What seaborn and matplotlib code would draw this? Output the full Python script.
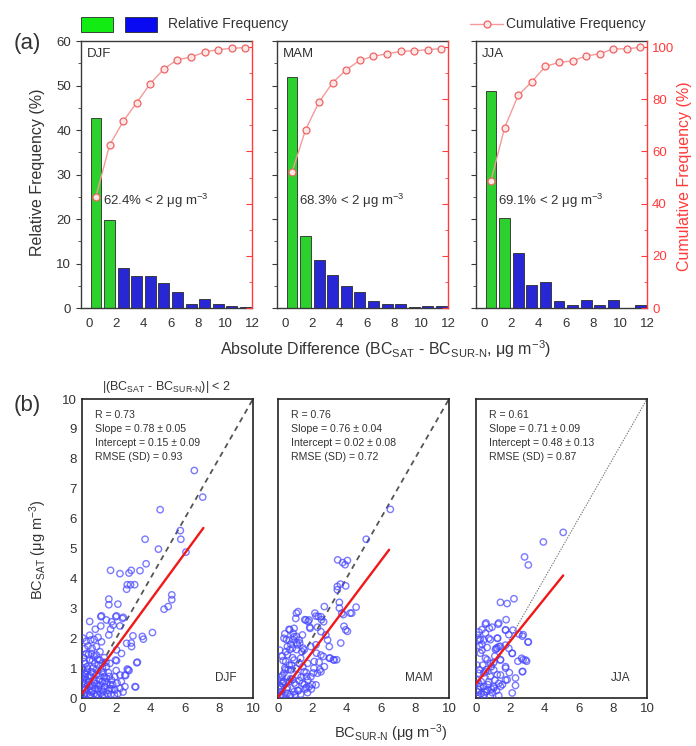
import numpy as np
import pandas as pd
import matplotlib
matplotlib.use("Agg")
import matplotlib.pyplot as plt
import seaborn as sns
from matplotlib.patches import Rectangle
from matplotlib.lines import Line2D
from matplotlib.ticker import MultipleLocator

# ---------------------------------------------------------------- data
seasons = ["DJF", "MAM", "JJA"]
bin_centers = [0.5, 1.5, 2.5, 3.5, 4.5, 5.5, 6.5, 7.5, 8.5, 9.5, 10.5, 11.5]

rel_djf = [42.7, 19.7, 9.1, 7.2, 7.3, 5.6, 3.6, 0.9, 2.0, 0.9, 0.5, 0.3]
rel_mam = [52.0, 16.3, 10.7, 7.4, 4.9, 3.6, 1.6, 0.9, 0.9, 0.3, 0.4, 0.4]
rel_jja = [48.8, 20.3, 12.4, 5.2, 5.9, 1.5, 0.6, 1.9, 0.8, 1.9, 0.0, 0.6]

stat_r = [0.73, 0.76, 0.61]
stat_slope = [0.78, 0.76, 0.71]
stat_slope_err = [0.05, 0.04, 0.09]
stat_intercept = [0.15, 0.02, 0.48]
stat_intercept_err = [0.09, 0.08, 0.13]
stat_rmse = [0.93, 0.72, 0.87]
fit_xmax = [7.1, 6.5, 5.1]

djf_sur = [6.57, 7.06, 4.57, 5.75, 5.78, 6.08, 3.69, 4.47, 3.75, 1.67, 2.22, 2.75, 2.88, 3.39,
           2.65, 2.84, 3.08, 2.61, 1.57, 1.57, 2.10, 5.25, 5.25, 5.04, 4.80, 0.45, 1.14, 2.02,
           2.41, 4.12, 3.53, 3.59, 2.98, 2.88, 2.02, 3.24, 2.65, 2.75, 3.14, 2.55,
           1.10, 0.78, 1.73, 1.82, 1.67, 1.43, 1.98, 2.37, 2.22, 1.10, 1.57, 0.06, 0.51, 0.71,
           0.94, 1.14, 0.35, 0.59, 0.84, 0.25, 0.55, 0.84, 0.12, 0.45, 0.75, 1.04, 1.43, 1.63,
           1.96, 2.61, 2.90, 2.31, 2.02, 3.20, 2.70, 2.51, 2.22, 1.92, 1.73, 0.16, 0.35, 0.55,
           0.84, 1.14, 0.12, 0.45, 0.75, 1.04, 1.33, 1.63, 1.92, 2.22, 2.51, 3.10,
           0.10, 0.30, 0.50, 0.70, 0.90, 1.10, 1.30, 1.50, 1.70, 1.90, 0.20, 0.60, 0.95, 1.25,
           1.80, 2.05, 0.30, 0.65, 0.95, 1.20, 0.40, 0.70, 1.00, 1.30, 1.55, 0.25, 0.45, 0.15,
           0.70, 1.05, 1.30, 0.20, 0.05, 0.08, 0.05, 0.28, 0.22, 0.18, 1.20, 1.45, 1.65, 2.30,
           2.40, 2.10, 0.85, 0.60,
           0.15, 0.35, 0.55, 0.75, 0.95, 1.15, 1.35, 1.55, 1.75, 0.25, 0.45, 0.65, 0.85, 1.05,
           1.25, 1.45, 0.10, 0.38, 0.62, 0.90, 1.18, 1.40, 0.48, 0.82, 1.18, 0.32, 0.05, 0.12,
           1.60, 2.00]
djf_sat = [7.61, 6.72, 6.30, 5.60, 5.31, 4.88, 5.31, 4.98, 4.49, 4.27, 4.16, 4.18, 4.27, 4.26,
           3.79, 3.79, 3.79, 3.64, 3.31, 3.12, 3.14, 3.45, 3.29, 3.06, 2.97, 2.56, 2.75, 2.75,
           2.70, 2.19, 2.06, 1.97, 2.08, 1.84, 1.25, 1.20, 0.97, 0.92, 0.37, 0.75,
           2.72, 2.30, 2.55, 2.44, 2.30, 2.61, 2.72, 2.66, 2.41, 2.41, 2.11, 2.00, 1.94, 1.96,
           2.03, 1.88, 1.74, 1.66, 1.72, 1.49, 1.49, 1.44, 1.22, 1.27, 1.16, 1.27, 1.05, 1.16,
           1.27, 1.83, 1.72, 1.49, 1.61, 1.18, 0.94, 0.77, 0.77, 0.71, 0.60, 0.82, 0.71, 0.88,
           0.77, 0.88, 0.49, 0.38, 0.32, 0.43, 0.38, 0.32, 0.27, 0.32, 0.38, 0.38,
           0.12, 0.15, 0.10, 0.14, 0.12, 0.16, 0.10, 0.14, 0.12, 0.10, 0.30, 0.25, 0.28, 0.22,
           0.45, 0.50, 1.05, 1.00, 1.10, 1.00, 0.55, 0.60, 0.62, 0.70, 0.85, 1.90, 2.10, 1.65,
           1.40, 1.55, 1.35, 1.15, 0.95, 0.65, 0.35, 0.90, 0.80, 0.70, 0.55, 0.50, 0.45, 0.55,
           0.20, 0.15, 0.48, 0.42,
           0.25, 0.45, 0.20, 0.50, 0.40, 0.30, 0.55, 0.25, 0.30, 0.60, 0.75, 0.85, 0.95, 0.75,
           0.85, 0.65, 1.35, 1.45, 1.25, 1.30, 1.15, 1.20, 0.05, 0.05, 0.06, 0.98, 0.55, 0.15,
           0.72, 0.92]

mam_sur = [6.57, 5.16, 3.49, 3.78, 3.92, 4.06, 3.96, 3.47, 3.47, 3.65, 3.59, 3.59, 3.73, 3.82,
           4.22, 4.31, 4.57, 2.71, 3.67, 3.86, 3.96, 4.06, 1.08, 1.57, 1.76, 1.86, 1.88, 2.16,
           2.35, 2.55, 0.69, 0.88, 1.08, 0.49, 0.88, 1.27, 0.69, 1.08, 1.47, 2.25, 2.65, 3.04,
           3.24, 3.43, 2.45, 2.06, 1.67, 1.18, 1.04, 1.63, 1.82, 2.22, 2.51, 2.67, 0.65, 0.94,
           2.31, 2.51, 2.80, 2.90, 0.35, 0.65, 0.94, 1.24, 1.43, 0.55, 0.84, 1.14, 1.53, 1.92,
           2.22, 3.00, 2.51, 3.00, 3.29, 0.45, 0.94, 1.33, 1.73, 2.12, 2.71, 2.51, 0.35, 0.75,
           1.14, 1.53, 1.92, 2.31, 0.25, 0.65, 1.04, 1.43, 1.82, 2.22, 0.16, 0.55, 0.94, 1.33,
           1.73, 0.10, 0.30, 0.50, 0.75, 1.20, 1.60, 0.20, 0.40, 0.05, 0.15, 0.25, 0.60, 0.85,
           1.25, 1.65, 2.00, 0.45, 0.80, 0.20, 0.12, 0.30,
           0.15, 0.35, 0.55, 0.75, 0.95, 1.15, 1.35, 1.55, 1.75, 1.95, 0.25, 0.45, 0.65, 0.85,
           1.05, 1.25, 1.45, 1.65, 0.10, 0.30, 0.55, 0.20, 0.70, 1.00, 2.10, 2.40, 1.10, 1.40,
           0.40, 0.75]
mam_sat = [6.31, 5.31, 4.62, 4.53, 4.46, 4.60, 3.75, 3.73, 3.62, 3.81, 3.20, 3.01, 2.84, 2.79,
           2.84, 2.84, 3.04, 3.06, 1.84, 2.40, 2.28, 2.23, 2.84, 2.62, 2.56, 2.37, 2.33, 2.84,
           2.73, 2.62, 2.28, 2.17, 2.06, 1.95, 1.95, 1.84, 1.62, 1.62, 1.67, 1.50, 1.39, 1.34,
           1.28, 1.28, 0.95, 0.84, 0.72, 2.89, 2.66, 2.61, 2.61, 2.74, 2.72, 2.55, 2.30, 2.33,
           2.37, 2.22, 2.11, 1.94, 2.00, 1.94, 2.05, 1.94, 2.11, 1.72, 1.67, 1.78, 1.61, 1.72,
           1.78, 1.72, 1.44, 1.33, 1.27, 1.22, 1.27, 1.33, 1.16, 1.22, 1.05, 0.88, 0.83, 0.94,
           0.77, 0.88, 0.71, 0.83, 0.49, 0.55, 0.44, 0.49, 0.38, 0.44, 0.21, 0.16, 0.21, 0.13,
           0.18, 0.08, 0.10, 0.30, 0.12, 0.25, 0.30, 0.60, 1.00, 0.30, 0.05, 1.40, 0.95, 0.62,
           0.58, 0.35, 0.45, 1.55, 1.10, 0.70, 0.40, 0.55,
           0.35, 0.55, 0.35, 0.65, 0.50, 0.25, 0.70, 0.45, 0.60, 0.30, 0.75, 0.95, 1.10, 1.35,
           1.00, 1.15, 1.05, 0.85, 1.60, 1.25, 1.45, 0.10, 0.05, 0.12, 1.00, 1.20, 1.85, 1.55,
           2.15, 1.80]

jja_sur = [5.10, 3.94, 2.84, 3.06, 2.22, 1.43, 1.82, 1.76, 0.59, 0.94, 1.33, 0.35, 0.55, 0.25,
           0.84, 1.27, 1.73, 1.92, 2.51, 2.76, 3.04, 2.12, 2.45, 2.75, 2.96, 2.73, 1.24, 1.14,
           1.43, 0.16, 0.22, 0.25, 0.65, 1.04, 1.43, 1.73, 1.82, 2.31, 2.31, 2.12, 0.45, 0.84,
           1.24, 1.43, 0.25, 0.65, 1.04, 1.33, 0.16, 0.45, 0.84, 0.55, 0.78, 1.29, 0.16, 0.45,
           0.75, 1.24, 1.73, 2.16, 2.71, 3.06, 0.35, 0.65, 1.18, 1.33, 1.73, 1.92, 2.12, 2.67,
           2.90, 0.55, 0.84, 1.43, 1.73, 2.71, 0.16, 0.55, 1.04, 1.43, 1.73, 0.16, 0.45, 0.75,
           1.04, 1.33, 0.10, 0.30, 0.60, 0.95, 1.20, 0.05, 0.08,
           0.12, 0.30, 0.50, 0.70, 0.90, 1.10, 0.20, 0.40, 0.60, 0.90, 1.10, 0.35, 0.08, 1.55,
           1.95]
jja_sat = [5.54, 5.22, 4.72, 4.45, 3.32, 3.20, 3.16, 2.62, 2.51, 2.37, 2.51, 2.29, 2.17, 1.97,
           1.95, 2.00, 2.28, 2.12, 2.14, 2.12, 1.87, 1.50, 1.23, 1.28, 1.23, 0.89, 1.67, 1.62,
           1.73, 1.95, 1.73, 1.50, 1.28, 1.19, 1.28, 1.00, 0.61, 0.67, 0.42, 0.17, 0.84, 0.72,
           0.78, 0.39, 0.39, 0.28, 0.33, 0.08, 0.06, 0.11, 0.06, 2.47, 2.33, 2.47, 2.21, 1.94,
           2.00, 2.00, 2.27, 2.27, 2.07, 1.88, 1.60, 1.69, 1.66, 1.72, 1.77, 1.66, 1.49, 1.33,
           1.27, 1.33, 1.16, 1.27, 1.05, 0.88, 0.83, 0.88, 0.94, 0.77, 0.60, 0.49, 0.38, 0.55,
           0.38, 0.49, 0.20, 0.15, 0.22, 0.18, 0.25, 1.10, 0.60,
           0.30, 0.55, 0.20, 0.45, 0.30, 0.60, 0.95, 1.10, 0.95, 1.05, 1.40, 1.80, 2.10, 0.45,
           0.85]

rel_freq = [rel_djf, rel_mam, rel_jja]
sat_vals = [djf_sat, mam_sat, jja_sat]
sur_vals = [djf_sur, mam_sur, jja_sur]

# ---------------------------------------------------------------- style
sns.set_style("white")
plt.rcParams["font.family"] = ["Liberation Sans", "DejaVu Sans"]
plt.rcParams["mathtext.fontset"] = "custom"
plt.rcParams["mathtext.rm"] = "Liberation Sans"
plt.rcParams["mathtext.it"] = "Liberation Sans:italic"
plt.rcParams["mathtext.bf"] = "Liberation Sans:bold"

GREEN = "#12ec12"
BLUE = "#0a0af2"
CUM_LINE = "#f59a9a"
CUM_EDGE = "#f06464"
RED_AX = "#ff3b3b"
DARK = "#3a3a3a"
TXT = "#333333"
PT = (0.28, 0.28, 1.0, 0.72)

fig = plt.figure(figsize=(6.96, 7.46), dpi=100)

# ---------------------------------------------------------------- (a) histograms
lefts_a = [0.1164, 0.398, 0.684]
for i, season in enumerate(seasons):
    ax = fig.add_axes([lefts_a[i], 0.587, 0.246, 0.358])
    df = pd.DataFrame({
        "center": bin_centers,
        "freq": rel_freq[i],
        "group": ["below" if c < 2 else "above" for c in bin_centers],
    })
    sns.barplot(data=df, x="center", y="freq", hue="group",
                palette={"below": GREEN, "above": BLUE}, native_scale=True,
                width=0.8, dodge=False, errorbar=None, legend=False,
                edgecolor="#2a2a2a", linewidth=0.6, ax=ax)
    ax.set_xlim(-0.6, 12)
    ax.set_ylim(0, 60)
    ax.xaxis.set_major_locator(MultipleLocator(2))
    ax.yaxis.set_major_locator(MultipleLocator(10))
    ax.yaxis.set_minor_locator(MultipleLocator(5))
    ax.xaxis.set_minor_locator(MultipleLocator(1))
    ax.tick_params(axis="both", which="major", direction="out", length=3.5,
                   width=0.8, color=DARK, labelsize=9.5, labelcolor=TXT)
    ax.tick_params(axis="both", which="minor", direction="out", length=2,
                   width=0.6, color=DARK)
    ax.tick_params(axis="y", right=False)
    ax.set_xlabel("")
    ax.set_ylabel("")
    if i > 0:
        ax.set_yticklabels([])
    for side in ["left", "bottom", "top"]:
        ax.spines[side].set_color(DARK)
        ax.spines[side].set_linewidth(1.0)
    ax.spines["right"].set_visible(False)

    cum = np.cumsum(rel_freq[i])
    ax2 = ax.twinx()
    sns.lineplot(x=bin_centers, y=cum, ax=ax2, color=CUM_LINE, linewidth=1.0,
                 marker="o", markersize=5, markerfacecolor="#fde6e6",
                 markeredgecolor=CUM_EDGE, markeredgewidth=0.9)
    ax2.set_ylim(0, 102.3)
    ax2.set_xlim(-0.6, 12)
    ax2.yaxis.set_major_locator(MultipleLocator(20))
    ax2.yaxis.set_minor_locator(MultipleLocator(10))
    ax2.tick_params(axis="y", which="major", direction="in", length=4,
                    width=0.8, color=RED_AX, labelcolor=RED_AX, labelsize=9.5)
    ax2.tick_params(axis="y", which="minor", direction="in", length=2.5,
                    width=0.6, color=RED_AX)
    ax2.spines["right"].set_color(RED_AX)
    ax2.spines["right"].set_linewidth(1.0)
    for side in ["left", "bottom", "top"]:
        ax2.spines[side].set_visible(False)
    ax2.set_ylabel("")
    if i < 2:
        ax2.set_yticklabels([])

    ax.text(1.0, 24, f"{cum[1]:.1f}% < 2 μg m$^{{-3}}$", fontsize=9.5,
            color=TXT, va="center", ha="left")
    ax.text(0.035, 0.975, season, transform=ax.transAxes, fontsize=9.5,
            color=TXT, va="top", ha="left")

# legend row above the histograms
fig.add_artist(Rectangle((81 / 696, 1 - 32 / 746), 32 / 696, 15 / 746,
                         transform=fig.transFigure, facecolor=GREEN,
                         edgecolor="#2a2a2a", linewidth=0.6))
fig.add_artist(Rectangle((125 / 696, 1 - 32 / 746), 32 / 696, 15 / 746,
                         transform=fig.transFigure, facecolor=BLUE,
                         edgecolor="#2a2a2a", linewidth=0.6))
fig.text(168 / 696, 1 - 24 / 746, "Relative Frequency", fontsize=10,
         color=TXT, va="center", ha="left")
fig.add_artist(Line2D([470 / 696, 503 / 696], [1 - 24 / 746, 1 - 24 / 746],
                      transform=fig.transFigure, color=CUM_LINE, linewidth=1.0))
fig.add_artist(Line2D([486.5 / 696], [1 - 24 / 746], transform=fig.transFigure,
                      linestyle="none", marker="o", markersize=5,
                      markerfacecolor="#fde6e6", markeredgecolor=CUM_EDGE,
                      markeredgewidth=0.9))
fig.text(506 / 696, 1 - 24 / 746, "Cumulative Frequency", fontsize=10,
         color=TXT, va="center", ha="left")

fig.text(27 / 696, 1 - 43 / 746, "(a)", fontsize=16, color=TXT,
         va="center", ha="center")
fig.text(38 / 696, 1 - 172 / 746, "Relative Frequency (%)", fontsize=11.5,
         color=TXT, rotation=90, va="center", ha="center")
fig.text(684 / 696, 1 - 176 / 746, "Cumulative Frequency (%)", fontsize=11.5,
         color=RED_AX, rotation=90, va="center", ha="center")
fig.text(386 / 696, 1 - 349 / 746,
         r"Absolute Difference (BC$_{\mathrm{SAT}}$ - BC$_{\mathrm{SUR\text{-}N}}$, μg m$^{-3}$)",
         fontsize=11.5, color=TXT, va="center", ha="center")

# ---------------------------------------------------------------- (b) scatter plots
lefts_b = [0.1178, 0.3994, 0.6839]
for i, season in enumerate(seasons):
    ax = fig.add_axes([lefts_b[i], 0.0643, 0.2457, 0.4008])
    sns.scatterplot(x=sur_vals[i], y=sat_vals[i], ax=ax, marker="o", s=21,
                    facecolor="none", edgecolor=PT, linewidth=1.0, zorder=3)

    if i < 2:
        sns.lineplot(x=[0, 10], y=[0, 10], ax=ax, color="#555555",
                     linewidth=1.3, linestyle=(0, (3, 2.5)), zorder=2)
    else:
        sns.lineplot(x=[0, 10], y=[0, 10], ax=ax, color="#777777",
                     linewidth=0.8, linestyle=(0, (1.2, 1.2)), zorder=2)

    fx = np.linspace(0, fit_xmax[i], 2)
    fy = stat_intercept[i] + stat_slope[i] * fx
    sns.lineplot(x=fx, y=fy, ax=ax, color="#f01818", linewidth=1.7, zorder=4)

    ax.set_xlim(0, 10)
    ax.set_ylim(0, 10)
    ax.xaxis.set_major_locator(MultipleLocator(2))
    ax.xaxis.set_minor_locator(MultipleLocator(1))
    ax.yaxis.set_major_locator(MultipleLocator(1))
    ax.yaxis.set_minor_locator(MultipleLocator(0.5))
    ax.tick_params(axis="both", which="major", direction="in", length=4,
                   width=0.9, color="#222", labelsize=9.5, labelcolor=TXT)
    ax.tick_params(axis="both", which="minor", direction="in", length=2,
                   width=0.7, color="#222")
    ax.tick_params(axis="both", top=False, right=False, which="both")
    if i > 0:
        ax.set_yticklabels([])
    for side in ax.spines:
        ax.spines[side].set_color("#222")
        ax.spines[side].set_linewidth(1.2)
    ax.set_xlabel("")
    ax.set_ylabel("")

    lines = [
        f"R = {stat_r[i]:.2f}",
        f"Slope = {stat_slope[i]:.2f} ± {stat_slope_err[i]:.2f}",
        f"Intercept = {stat_intercept[i]:.2f} ± {stat_intercept_err[i]:.2f}",
        f"RMSE (SD) = {stat_rmse[i]:.2f}",
    ]
    for k, line in enumerate(lines):
        ax.text(0.076, 0.946 - k * 0.047, line, transform=ax.transAxes,
                fontsize=7.6, color=TXT, va="center", ha="left")
    ax.text(0.905, 0.067, season, transform=ax.transAxes, fontsize=8.5,
            color=TXT, va="center", ha="right")

fig.text(27 / 696, 1 - 405 / 746, "(b)", fontsize=16, color=TXT,
         va="center", ha="center")
fig.text(166 / 696, 1 - 387 / 746,
         r"|(BC$_{\mathrm{SAT}}$ - BC$_{\mathrm{SUR\text{-}N}}$)| < 2",
         fontsize=9, color=TXT, va="center", ha="center")
fig.text(38 / 696, 1 - 550 / 746, r"BC$_{\mathrm{SAT}}$ (μg m$^{-3}$)",
         fontsize=10.5, color=TXT, rotation=90, va="center", ha="center")
fig.text(391 / 696, 1 - 733 / 746, r"BC$_{\mathrm{SUR\text{-}N}}$ (μg m$^{-3}$)",
         fontsize=10.5, color=TXT, va="center", ha="center")

fig.savefig("out.png", dpi=100, facecolor="white")
